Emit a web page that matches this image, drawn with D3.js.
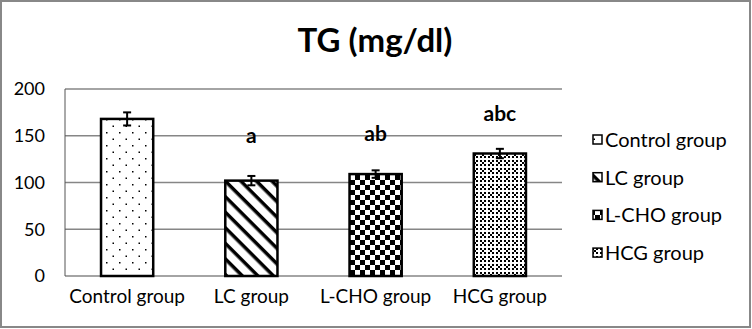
<!DOCTYPE html>
<html><head><meta charset="utf-8">
<script src="https://cdn.jsdelivr.net/npm/d3@7"></script>
<style>body{margin:0;background:#fff}svg{display:block}</style>
</head><body>
<script>
const categories = ["Control group", "LC group", "L-CHO group", "HCG group"];
const values = [168, 102, 109, 131];
const errors = [7, 5, 4, 5];
const sigLetters = ["", "a", "ab", "abc"];
const sigLetterY = [0, 142, 144, 166];
const yTicks = [0, 50, 100, 150, 200];
const title = "TG (mg/dl)";

const W = 752, H = 329;
const svg = d3.select("body").append("svg").attr("width", W).attr("height", H);
const font = "Lato, 'Open Sans', sans-serif";

const defs = svg.append("defs");
// dots
let p = defs.append("pattern").attr("id","pDots").attr("patternUnits","userSpaceOnUse").attr("width",13).attr("height",13);
p.append("rect").attr("width",13).attr("height",13).attr("fill","#fff");
[[2,2],[8.5,8.5]].forEach(([x,y])=>p.append("rect").attr("x",x).attr("y",y).attr("width",1.5).attr("height",1.5).attr("fill","#000"));
// diagonal stripes
p = defs.append("pattern").attr("id","pDiag").attr("patternUnits","userSpaceOnUse").attr("width",11).attr("height",11).attr("patternTransform","rotate(45)");
p.append("rect").attr("width",11).attr("height",11).attr("fill","#fff");
p.append("rect").attr("x",0).attr("y",0).attr("width",11).attr("height",3.5).attr("fill","#000");
// checker
p = defs.append("pattern").attr("id","pCheck").attr("patternUnits","userSpaceOnUse").attr("width",10).attr("height",10);
p.append("rect").attr("width",10).attr("height",10).attr("fill","#fff");
p.append("rect").attr("width",5).attr("height",5).attr("fill","#000");
p.append("rect").attr("x",5).attr("y",5).attr("width",5).attr("height",5).attr("fill","#000");
// fine checker grid
p = defs.append("pattern").attr("id","pFine").attr("patternUnits","userSpaceOnUse").attr("width",8).attr("height",8);
p.append("rect").attr("width",8).attr("height",8).attr("fill","#fff");
for (let i=0;i<4;i++) for (let j=0;j<4;j++) if ((i+j)%2===0 && !(i===3||j===3)) p.append("rect").attr("x",i*2).attr("y",j*2).attr("width",2).attr("height",2).attr("fill","#000");
p.append("rect").attr("x",1).attr("y",1).attr("width",1).attr("height",1).attr("fill","#000");
const fills = ["url(#pDots)","url(#pDiag)","url(#pCheck)","url(#pFine)"];

// border
svg.append("rect").attr("x",1).attr("y",1).attr("width",W-3).attr("height",H-3).attr("fill","#fff").attr("stroke","#888").attr("stroke-width",2);

// title
svg.append("text").attr("x",375).attr("y",52).attr("text-anchor","middle").attr("font-family",font).attr("font-weight","bold").attr("font-size",33).text(title);

const x0 = 65, x1 = 562, yTop = 89, yBot = 276;
const x = d3.scaleBand().domain(categories).range([x0, x1]).paddingInner(0.58).paddingOuter(0.29);
const y = d3.scaleLinear().domain([0, 200]).range([yBot, yTop]);

// gridlines
svg.append("g").selectAll("line").data(yTicks).join("line")
  .attr("x1", x0).attr("x2", x1).attr("y1", d=>y(d)).attr("y2", d=>y(d))
  .attr("stroke","#868686").attr("stroke-width",1.5);
svg.append("line").attr("x1",x0).attr("x2",x0).attr("y1",y(200)).attr("y2",y(0)).attr("stroke","#555").attr("stroke-width",1);

// y axis labels
const yAxis = d3.axisLeft(y).tickValues(yTicks).tickSize(0).tickPadding(20);
const gy = svg.append("g").attr("transform",`translate(${x0},0)`).call(yAxis);
gy.select(".domain").remove();
gy.selectAll("text").attr("font-family",font).attr("font-size",18).attr("fill","#000");

// x axis labels
const xAxis = d3.axisBottom(x).tickSize(0).tickPadding(14);
const gx = svg.append("g").attr("transform",`translate(0,${yBot})`).call(xAxis);
gx.select(".domain").remove();
gx.selectAll("text").attr("font-family",font).attr("font-size",19).attr("fill","#000");

// bars
svg.append("g").selectAll("rect").data(values).join("rect")
  .attr("x",(d,i)=>x(categories[i])).attr("width",x.bandwidth())
  .attr("y",d=>y(d)).attr("height",d=>y(0)-y(d))
  .attr("fill",(d,i)=>fills[i]).attr("stroke","#000").attr("stroke-width",2.5);

// error bars
const eg = svg.append("g").attr("stroke","#000").attr("stroke-width",2);
values.forEach((v,i)=>{
  const cx = x(categories[i]) + x.bandwidth()/2;
  eg.append("line").attr("x1",cx).attr("x2",cx).attr("y1",y(v+errors[i])).attr("y2",y(v-errors[i]));
  eg.append("line").attr("x1",cx-4).attr("x2",cx+4).attr("y1",y(v+errors[i])).attr("y2",y(v+errors[i]));
  eg.append("line").attr("x1",cx-4).attr("x2",cx+4).attr("y1",y(v-errors[i])).attr("y2",y(v-errors[i]));
});

// significance letters
svg.append("g").selectAll("text").data(sigLetters).join("text")
  .attr("x",(d,i)=>x(categories[i]) + x.bandwidth()/2).attr("y",(d,i)=>y(sigLetterY[i]))
  .attr("text-anchor","middle").attr("font-family",font).attr("font-weight","bold").attr("font-size",21)
  .text(d=>d);

// legend
const lg = svg.append("g");
categories.forEach((c,i)=>{
  const ly = 140 + i*37.7;
  lg.append("rect").attr("x",593).attr("y",ly-5).attr("width",9).attr("height",9).attr("fill",fills[i]).attr("stroke","#000").attr("stroke-width",1.5);
  lg.append("text").attr("x",605).attr("y",ly).attr("dy","0.35em").attr("font-family",font).attr("font-size",20).text(c);
});
</script>
</body></html>
